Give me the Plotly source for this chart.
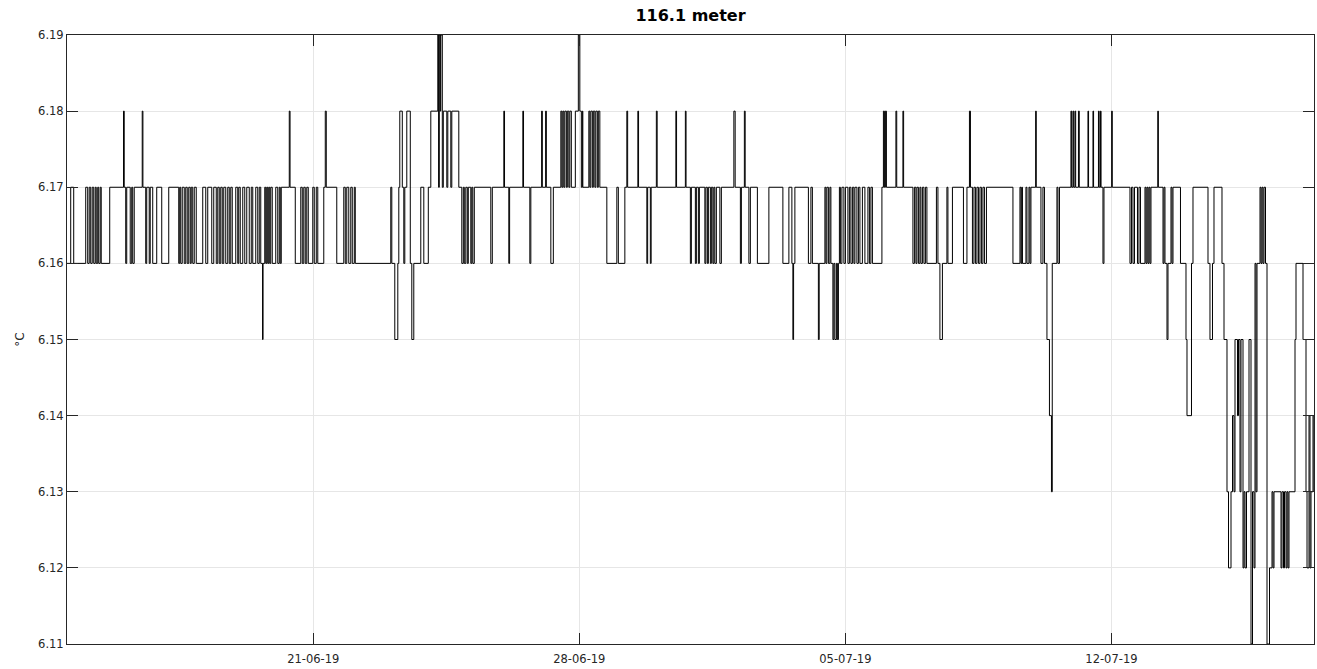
import pandas as pd
import plotly.graph_objects as go

# hours since 2019-06-14 00:00 at which the reading changes, and the new reading (°C)
hours = [
    12.5, 14.84, 16.74, 24.32, 25.58, 26.53, 27.47, 28.42, 29.37, 30.32,
    30.95, 31.90, 32.53, 33.47, 34.11, 39.48, 48.19, 48.63, 49.58, 50.21,
    52.42, 53.37, 54.00, 54.95, 60.00, 60.44, 62.21, 62.84, 64.42, 65.05,
    66.63, 69.16, 72.32, 76.74, 83.06, 83.69, 84.32, 85.27, 86.53, 87.48,
    88.42, 89.37, 90.32, 90.95, 91.90, 92.85, 94.11, 98.21, 100.11, 101.37,
    103.90, 105.16, 106.74, 107.69, 108.64, 109.58, 110.53, 111.48, 112.74, 114.00,
    114.95, 115.90, 116.85, 119.06, 120.32, 120.95, 121.90, 123.48, 124.74, 126.00,
    127.58, 128.85, 129.79, 131.69, 132.95, 133.90, 134.85, 135.98, 136.30, 137.37,
    138.00, 138.64, 139.27, 139.90, 140.53, 141.16, 142.11, 144.32, 145.58, 146.53,
    147.16, 147.79, 152.85, 153.35, 156.64, 160.11, 161.06, 162.01, 162.95, 163.90,
    164.85, 167.69, 168.64, 169.90, 170.85, 174.64, 175.58, 176.22, 182.85, 187.27,
    188.22, 189.16, 190.43, 191.69, 192.64, 193.90, 194.53, 216.95, 217.59, 219.48,
    221.38, 222.01, 222.64, 224.22, 225.17, 225.80, 227.06, 229.27, 230.22, 231.48,
    235.90, 237.80, 240.64, 242.22, 246.64, 247.14, 247.59, 248.22, 248.53, 249.48,
    250.11, 252.32, 252.96, 254.85, 255.48, 259.90, 261.80, 262.75, 263.38, 264.32,
    265.27, 265.90, 267.48, 268.11, 268.75, 269.69, 280.11, 281.06, 288.33, 288.77,
    291.48, 291.99, 300.33, 300.77, 304.75, 305.38, 312.20, 312.64, 314.73, 315.17,
    318.01, 319.59, 324.33, 324.96, 325.59, 326.22, 326.85, 327.80, 328.43, 329.38,
    330.01, 330.96, 333.48, 335.38, 336.33, 337.27, 337.91, 338.22, 342.01, 342.64,
    343.27, 344.22, 344.85, 345.80, 346.43, 347.38, 348.01, 348.96, 353.38, 359.69,
    360.64, 364.75, 366.01, 366.52, 372.96, 373.40, 378.64, 379.15, 380.85, 381.36,
    384.64, 385.15, 396.96, 397.40, 402.96, 403.40, 406.12, 406.75, 409.28, 409.91,
    411.17, 411.80, 415.28, 415.91, 416.86, 417.49, 418.75, 419.38, 420.33, 420.96,
    421.59, 422.54, 424.75, 425.70, 433.59, 434.41, 437.70, 438.33, 440.22, 440.73,
    443.07, 444.01, 448.44, 455.70, 464.54, 468.33, 470.23, 470.86, 471.30, 472.12,
    480.65, 482.23, 483.17, 486.96, 487.47, 491.07, 491.70, 492.33, 493.28, 494.23,
    494.86, 496.12, 496.75, 497.38, 498.33, 498.96, 499.60, 500.23, 500.86, 501.81,
    503.07, 504.02, 505.60, 506.54, 507.49, 508.44, 509.38, 510.02, 511.28, 512.23,
    513.18, 514.75, 516.33, 518.23, 519.18, 520.12, 521.07, 527.07, 528.02, 528.65,
    529.28, 529.91, 535.91, 536.42, 540.33, 540.78, 546.65, 547.60, 548.54, 549.18,
    550.12, 551.07, 551.70, 552.65, 553.60, 554.54, 555.49, 561.49, 562.44, 563.70,
    565.28, 568.12, 568.76, 571.60, 578.55, 580.76, 582.34, 582.97, 584.23, 585.18,
    586.12, 587.07, 588.02, 588.97, 589.91, 590.86, 591.81, 593.07, 609.81, 614.23,
    614.86, 615.37, 615.81, 618.02, 618.65, 619.91, 620.55, 621.18, 624.15, 624.53,
    627.49, 628.76, 629.71, 631.28, 632.86, 634.13, 634.63, 637.60, 638.23, 639.18,
    646.44, 646.88, 647.71, 648.15, 648.97, 649.41, 651.18, 651.69, 657.18, 657.56,
    660.34, 660.72, 663.81, 664.25, 665.07, 665.45, 666.65, 667.29, 672.15, 672.53,
    683.71, 684.65, 685.60, 686.55, 688.44, 689.39, 690.34, 693.18, 693.81, 694.44,
    695.08, 695.71, 696.34, 696.97, 701.26, 701.64, 704.56, 705.18, 705.81, 707.08,
    707.71, 709.60, 710.23, 710.87, 715.60, 719.08, 719.71, 722.55, 723.50, 732.97,
    734.23, 735.81, 736.76, 741.81, 743.08, 744.97, 745.92, 747.50, 748.45, 749.39,
    750.03, 751.60, 752.24, 753.18, 753.81, 755.08, 755.71, 756.34, 757.29, 758.87,
    760.13, 761.08, 762.03, 762.66, 763.29, 763.92, 765.82, 766.45, 767.08, 767.71,
    768.34, 769.29, 770.24, 771.82, 773.39, 774.03, 774.66, 779.08, 779.71, 780.66,
    781.29, 782.24, 782.87, 783.50, 784.13, 787.92, 788.55, 792.97, 794.86, 795.50,
    796.76, 797.39, 798.02, 799.28, 799.91,
]

temps = [
    6.16, 6.17, 6.16, 6.17, 6.16, 6.17, 6.16, 6.17, 6.16, 6.17,
    6.16, 6.17, 6.16, 6.17, 6.16, 6.17, 6.18, 6.17, 6.16, 6.17,
    6.16, 6.17, 6.16, 6.17, 6.18, 6.17, 6.16, 6.17, 6.16, 6.17,
    6.16, 6.17, 6.16, 6.17, 6.16, 6.17, 6.16, 6.17, 6.16, 6.17,
    6.16, 6.17, 6.16, 6.17, 6.16, 6.17, 6.16, 6.17, 6.16, 6.17,
    6.16, 6.17, 6.16, 6.17, 6.16, 6.17, 6.16, 6.17, 6.16, 6.17,
    6.16, 6.17, 6.16, 6.17, 6.16, 6.17, 6.16, 6.17, 6.16, 6.17,
    6.16, 6.17, 6.16, 6.17, 6.16, 6.17, 6.16, 6.15, 6.16, 6.17,
    6.16, 6.17, 6.16, 6.17, 6.16, 6.17, 6.16, 6.17, 6.16, 6.17,
    6.16, 6.17, 6.18, 6.17, 6.16, 6.17, 6.16, 6.17, 6.16, 6.17,
    6.16, 6.17, 6.16, 6.17, 6.16, 6.17, 6.18, 6.17, 6.16, 6.17,
    6.16, 6.17, 6.16, 6.17, 6.16, 6.17, 6.16, 6.17, 6.16, 6.15,
    6.16, 6.17, 6.18, 6.17, 6.16, 6.17, 6.18, 6.16, 6.15, 6.16,
    6.17, 6.16, 6.17, 6.18, 6.19, 6.17, 6.19, 6.18, 6.19, 6.17,
    6.18, 6.17, 6.18, 6.17, 6.18, 6.17, 6.16, 6.17, 6.16, 6.17,
    6.16, 6.17, 6.16, 6.17, 6.16, 6.17, 6.16, 6.17, 6.18, 6.17,
    6.16, 6.17, 6.18, 6.17, 6.16, 6.17, 6.18, 6.17, 6.18, 6.17,
    6.16, 6.17, 6.18, 6.17, 6.18, 6.17, 6.18, 6.17, 6.18, 6.17,
    6.18, 6.17, 6.18, 6.19, 6.18, 6.17, 6.18, 6.17, 6.18, 6.17,
    6.18, 6.17, 6.18, 6.17, 6.18, 6.17, 6.18, 6.17, 6.16, 6.17,
    6.16, 6.17, 6.18, 6.17, 6.18, 6.17, 6.16, 6.17, 6.16, 6.17,
    6.18, 6.17, 6.18, 6.17, 6.18, 6.17, 6.16, 6.17, 6.16, 6.17,
    6.16, 6.17, 6.16, 6.17, 6.16, 6.17, 6.16, 6.17, 6.16, 6.17,
    6.16, 6.17, 6.16, 6.17, 6.18, 6.17, 6.16, 6.17, 6.18, 6.17,
    6.16, 6.17, 6.16, 6.17, 6.16, 6.17, 6.16, 6.15, 6.16, 6.17,
    6.16, 6.17, 6.16, 6.15, 6.16, 6.17, 6.16, 6.17, 6.16, 6.17,
    6.16, 6.15, 6.16, 6.15, 6.16, 6.15, 6.16, 6.17, 6.16, 6.17,
    6.16, 6.17, 6.16, 6.17, 6.16, 6.17, 6.16, 6.17, 6.16, 6.17,
    6.16, 6.17, 6.16, 6.17, 6.16, 6.17, 6.16, 6.17, 6.18, 6.17,
    6.18, 6.17, 6.18, 6.17, 6.18, 6.17, 6.16, 6.17, 6.16, 6.17,
    6.16, 6.17, 6.16, 6.17, 6.16, 6.17, 6.16, 6.17, 6.16, 6.15,
    6.16, 6.17, 6.16, 6.17, 6.16, 6.17, 6.18, 6.17, 6.16, 6.17,
    6.16, 6.17, 6.16, 6.17, 6.16, 6.17, 6.16, 6.17, 6.16, 6.17,
    6.16, 6.17, 6.16, 6.17, 6.16, 6.17, 6.16, 6.17, 6.18, 6.17,
    6.16, 6.17, 6.16, 6.15, 6.14, 6.13, 6.16, 6.17, 6.16, 6.17,
    6.18, 6.17, 6.18, 6.17, 6.18, 6.17, 6.18, 6.17, 6.18, 6.17,
    6.18, 6.17, 6.18, 6.17, 6.18, 6.17, 6.16, 6.17, 6.18, 6.17,
    6.16, 6.17, 6.16, 6.17, 6.16, 6.17, 6.16, 6.17, 6.16, 6.17,
    6.16, 6.17, 6.16, 6.17, 6.18, 6.17, 6.16, 6.17, 6.16, 6.15,
    6.16, 6.17, 6.16, 6.17, 6.16, 6.15, 6.14, 6.16, 6.17, 6.16,
    6.15, 6.16, 6.17, 6.16, 6.15, 6.13, 6.12, 6.13, 6.14, 6.13,
    6.15, 6.14, 6.15, 6.13, 6.15, 6.12, 6.13, 6.12, 6.13, 6.15,
    6.11, 6.13, 6.12, 6.16, 6.13, 6.16, 6.17, 6.16, 6.17, 6.16,
    6.17, 6.16, 6.11, 6.12, 6.13, 6.12, 6.13, 6.12, 6.13, 6.12,
    6.13, 6.12, 6.13, 6.12, 6.13, 6.15, 6.16, 6.15, 6.13, 6.12,
    6.14, 6.12, 6.13, 6.14, 6.13,
]

tick_dates = ["2019-06-21", "2019-06-28", "2019-07-05", "2019-07-12"]
tick_labels = ["21-06-19", "28-06-19", "05-07-19", "12-07-19"]
y_ticks = [6.11, 6.12, 6.13, 6.14, 6.15, 6.16, 6.17, 6.18, 6.19]

base = pd.Timestamp("2019-06-14")
times = base + pd.to_timedelta(hours, unit="h")

fig = go.Figure()
fig.add_trace(go.Scatter(
    x=times, y=temps, mode="lines",
    line=dict(color="black", width=1, shape="hv"),
    hoverinfo="skip", showlegend=False,
))

axis_common = dict(
    showline=True, linecolor="#262626", linewidth=1, mirror="ticks",
    ticks="inside", ticklen=11, tickcolor="#262626",
    showgrid=True, gridcolor="#e6e6e6", gridwidth=1, zeroline=False,
    tickfont=dict(family="DejaVu Sans", size=11.5, color="#262626"),
)

fig.update_layout(
    width=1317, height=669,
    margin=dict(l=67, r=3, t=35, b=25),
    paper_bgcolor="white", plot_bgcolor="white",
    title=dict(text="<b>116.1 meter</b>", x=0.5, xref="paper", xanchor="center",
               y=0.985, yanchor="top",
               font=dict(family="DejaVu Sans", size=16, color="black")),
    xaxis=dict(
        range=[base + pd.Timedelta(hours=12.5), base + pd.Timedelta(hours=799.91)],
        tickvals=pd.to_datetime(tick_dates), ticktext=tick_labels,
        ticklabelstandoff=4,
        **axis_common,
    ),
    yaxis=dict(
        range=[y_ticks[0], y_ticks[-1]], tickvals=y_ticks,
        ticktext=[f"{v:.2f}" for v in y_ticks],
        title=dict(text="°C", standoff=10, font=dict(family="DejaVu Sans", size=12, color="#262626")),
        **axis_common,
    ),
)

fig.write_html("out.html", config={"displayModeBar": False})
